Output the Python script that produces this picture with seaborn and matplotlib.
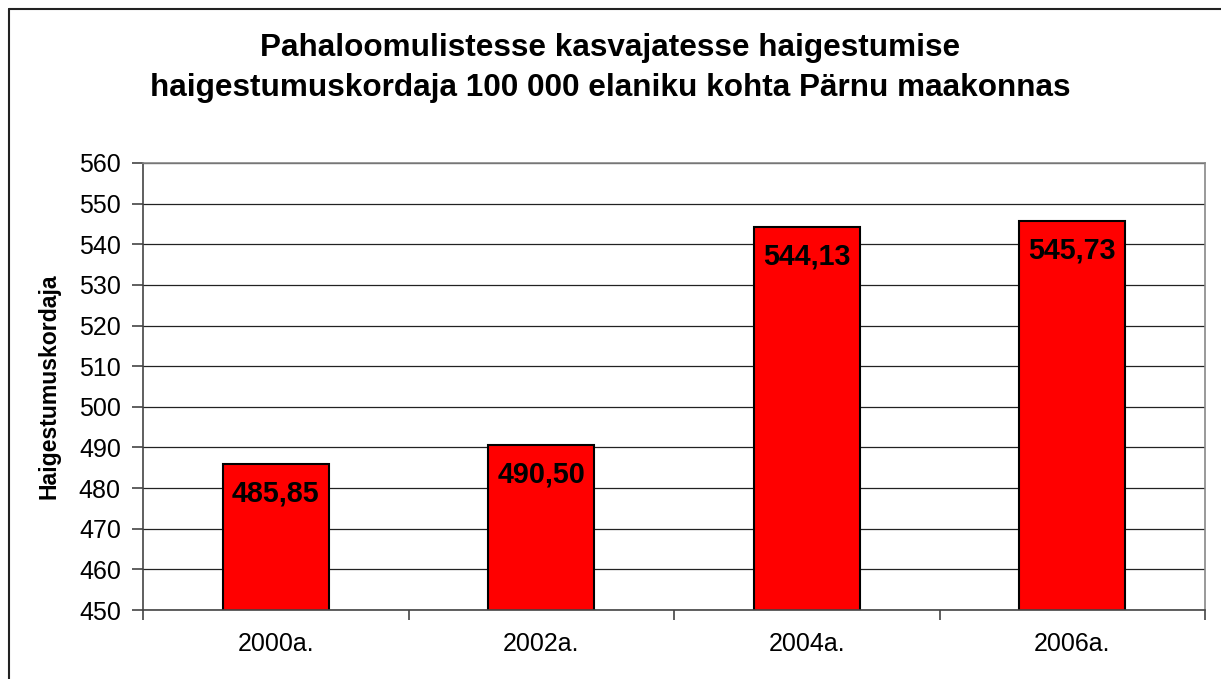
import pandas as pd
import matplotlib.pyplot as plt
import matplotlib.lines as mlines
import seaborn as sns

# Data
years = ['2000a.', '2002a.', '2004a.', '2006a.']
rates = [485.85, 490.50, 544.13, 545.73]

df = pd.DataFrame({'aasta': years, 'kordaja': rates})

sns.set_style('white')
plt.rcParams['font.family'] = ['Liberation Sans', 'DejaVu Sans']
plt.rcParams['text.color'] = 'black'
plt.rcParams['axes.labelcolor'] = 'black'
plt.rcParams['xtick.color'] = 'black'
plt.rcParams['ytick.color'] = 'black'

fig = plt.figure(figsize=(12.21, 6.79), dpi=100)
ax = fig.add_axes([143 / 1221, 1 - 610 / 679, (1205 - 143) / 1221, (610 - 163) / 679])

sns.barplot(x='aasta', y='kordaja', data=df, color='#FF0000', edgecolor='black',
            linewidth=1.5, width=0.4, saturation=1, ax=ax)

ax.set_ylim(450, 560)
ax.set_xlim(-0.5, len(years) - 0.5)
ax.set_yticks(range(450, 561, 10))
ax.yaxis.grid(True, color='#222222', linewidth=0.9)
ax.set_axisbelow(True)

# tick marks between categories, labels centred under bars
ax.set_xticks([i - 0.5 for i in range(len(years) + 1)], minor=True)
ax.tick_params(axis='x', which='major', length=0, pad=16, labelsize=18)
ax.tick_params(axis='x', which='minor', length=7, width=1.2, color='#444444', direction='out', bottom=True)
ax.tick_params(axis='y', length=8, width=1.2, color='#444444', labelcolor='black',
               direction='out', left=True, pad=8, labelsize=18)

for side in ['left', 'bottom']:
    ax.spines[side].set_color('#444444')
    ax.spines[side].set_linewidth(1.2)
ax.spines['right'].set_color('#888888')
ax.spines['right'].set_linewidth(1.2)
ax.spines['top'].set_color('#888888')
ax.spines['top'].set_linewidth(1.2)

ax.set_xlabel('')
ax.set_ylabel('Haigestumuskordaja', fontsize=16.6, fontweight='bold')
ax.yaxis.set_label_coords(-0.078, 0.5)

# value labels inside top of bars
for i, v in enumerate(rates):
    ax.annotate(f'{v:.2f}'.replace('.', ','), xy=(i, v), xytext=(0, -11),
                textcoords='offset points', ha='center', va='top',
                fontsize=20.7, fontweight='bold', color='black')

fig.text(0.5, 1 - 68 / 679,
         'Pahaloomulistesse kasvajatesse haigestumise\n'
         'haigestumuskordaja 100 000 elaniku kohta Pärnu maakonnas',
         ha='center', va='center', fontsize=22.7, fontweight='bold', linespacing=1.4)

# frame of the chart area (left and top edges visible)
fig.add_artist(mlines.Line2D([8.5 / 1221, 8.5 / 1221], [0, 1 - 9 / 679],
                             transform=fig.transFigure, color='#222222', linewidth=1.5))
fig.add_artist(mlines.Line2D([8.5 / 1221, 1], [1 - 9 / 679, 1 - 9 / 679],
                             transform=fig.transFigure, color='#222222', linewidth=1.5))

fig.savefig('out.png', dpi=100)
